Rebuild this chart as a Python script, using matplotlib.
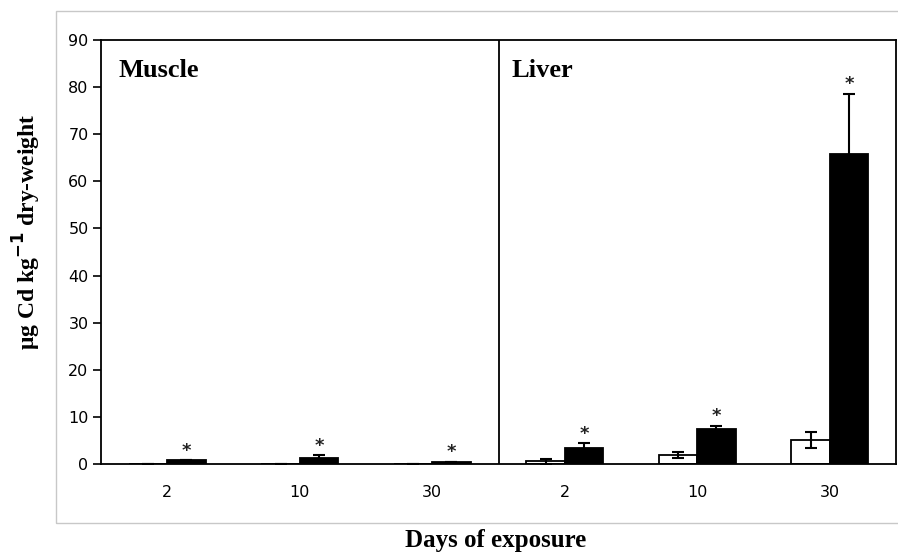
import matplotlib
matplotlib.use("Agg")
import matplotlib.pyplot as plt
from matplotlib.patches import Rectangle
import numpy as np

# Data
tissues = ["Muscle", "Liver"]
days = ["2", "10", "30"]
tick_labels = days + days
control_vals = [0.05, 0.05, 0.05, 0.6, 1.85, 5.1]
control_err = [0.0, 0.0, 0.0, 0.5, 0.6, 1.7]
cd_vals = [0.8, 1.2, 0.5, 3.3, 7.4, 65.8]
cd_err = [0.0, 0.7, 0.0, 1.1, 0.7, 12.8]
significant = [True, True, True, True, True, True]

fig = plt.figure(figsize=(8.98, 5.54), dpi=100)
# light gray chart frame
fig.patches.append(Rectangle((56 / 898, 1 - 523 / 554), 1.0, (523 - 11) / 554,
                             transform=fig.transFigure, fill=False,
                             edgecolor="#c8c8c8", linewidth=1.0))
ax = fig.add_axes([101 / 898, 1 - 464 / 554, (896 - 101) / 898, (464 - 40) / 554])

x = np.arange(len(tick_labels))
w = 0.29
ax.bar(x - w / 2, control_vals, w, color="white", edgecolor="black", linewidth=1.3,
       yerr=control_err, error_kw=dict(ecolor="black", elinewidth=1.5, capsize=4, capthick=1.5))
ax.bar(x + w / 2, cd_vals, w, color="black", edgecolor="black", linewidth=1.3,
       yerr=cd_err, error_kw=dict(ecolor="black", elinewidth=1.5, capsize=4, capthick=1.5))

for i, s in enumerate(significant):
    if s:
        top = cd_vals[i] + cd_err[i]
        ax.text(x[i] + w / 2, top + 2.0, "*", ha="center", va="center",
                fontsize=13, fontweight="bold", color="#222222")

ax.axvline(2.5, color="black", linewidth=1.3)

ax.set_xlim(-0.5, 5.5)
ax.set_ylim(0, 90)
ax.set_yticks(np.arange(0, 91, 10))
ax.set_xticks(x)
ax.set_xticklabels(tick_labels)
ax.tick_params(axis="x", length=0, pad=15, labelsize=11.5)
ax.tick_params(axis="y", length=6, width=1.2, direction="out", pad=3, labelsize=11.5)
for sp in ax.spines.values():
    sp.set_linewidth(1.3)

serif = ["Liberation Serif", "DejaVu Serif"]
ax.text(0.022, 0.955, tissues[0], transform=ax.transAxes, family=serif,
        fontweight="bold", fontsize=19, ha="left", va="top")
ax.text(0.516, 0.955, tissues[1], transform=ax.transAxes, family=serif,
        fontweight="bold", fontsize=19, ha="left", va="top")

fig.text(496 / 898, 1 - 540 / 554, "Days of exposure", family=serif,
         fontweight="bold", fontsize=18, ha="center", va="center")
fig.text(27 / 898, 1 - 232 / 554, r"μg Cd kg$^{\mathbf{-1}}$ dry-weight", family=serif,
         fontweight="bold", fontsize=17, ha="center", va="center", rotation=90)

fig.savefig("out.png", dpi=100)
